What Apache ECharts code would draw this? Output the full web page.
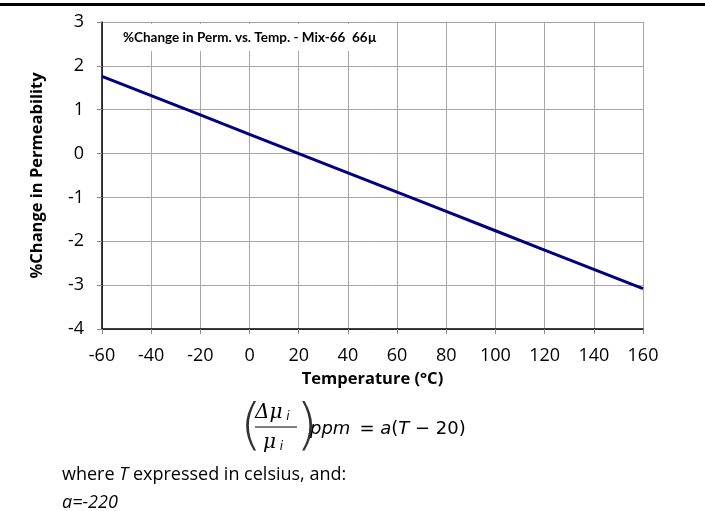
<!DOCTYPE html>
<html><head><meta charset="utf-8">
<style>html,body{margin:0;padding:0;background:#fff}#c{width:705px;height:511px}</style>
<script src="https://cdn.jsdelivr.net/npm/echarts@6/dist/echarts.min.js"></script>
</head><body><div id="c"></div>
<script>
// Data
const temps = [-60, -40, -20, 0, 20, 40, 60, 80, 100, 120, 140, 160];
const permChange = [1.76, 1.32, 0.88, 0.44, 0, -0.44, -0.88, -1.32, -1.76, -2.2, -2.64, -3.08];
const xTicks = {min: -60, max: 160, interval: 20};
const yTicks = {min: -4, max: 3, interval: 1};
const chartTitle = '%Change in Perm. vs. Temp. - Mix-66  66µ';
const xName = 'Temperature (°C)';
const yName = '%Change in Permeability';
const aValue = 'a=-220';

const font = '"Open Sans", sans-serif';
const chart = echarts.init(document.getElementById('c'), null, {renderer: 'canvas'});
chart.setOption({
  animation: false,
  backgroundColor: '#fff',
  grid: {left: 102, right: 62, top: 22, bottom: 182, containLabel: false},
  xAxis: {
    type: 'value', min: xTicks.min, max: xTicks.max, interval: xTicks.interval,
    name: xName, nameLocation: 'middle', nameGap: 42,
    nameTextStyle: {fontFamily: font, fontWeight: 'bold', fontSize: 16.5, color: '#000'},
    axisLine: {show: true, onZero: false, lineStyle: {color: '#000', width: 1.5}},
    axisTick: {show: true, length: 5, lineStyle: {color: '#888'}},
    axisLabel: {fontFamily: font, fontSize: 18, color: '#000', margin: 18},
    splitLine: {show: true, lineStyle: {color: '#a6a6a6', width: 1}}
  },
  yAxis: {
    type: 'value', min: yTicks.min, max: yTicks.max, interval: yTicks.interval,
    name: yName, nameLocation: 'middle', nameGap: 56, nameRotate: 90,
    nameTextStyle: {fontFamily: font, fontWeight: 'bold', fontSize: 16.5, color: '#000'},
    axisLine: {show: true, onZero: false, lineStyle: {color: '#000', width: 1.5}},
    axisTick: {show: true, length: 5, lineStyle: {color: '#888'}},
    axisLabel: {fontFamily: font, fontSize: 18, color: '#000', margin: 18},
    splitLine: {show: true, lineStyle: {color: '#a6a6a6', width: 1}}
  },
  series: [{
    type: 'line', data: temps.map((t, i) => [t, permChange[i]]),
    showSymbol: false, lineStyle: {color: '#000080', width: 3}
  }],
  graphic: [
    {type: 'rect', left: 0, top: 3, shape: {width: 705, height: 3}, style: {fill: '#000'}},
    {type: 'rect', shape: {x: 104, y: 24, width: 290, height: 27}, style: {fill: '#fff'}, z: 10},
    {type: 'text', x: 123, y: 38, z: 11, style: {text: chartTitle, font: 'bold 13.5px Lato', fill: '#000', verticalAlign: 'middle'}},
    // formula
    {type: 'text', x: 240, y: 428, z: 11, style: {text: '(', font: '300 56px DejaVu Sans', fill: '#333', verticalAlign: 'middle'}},
    {type: 'text', x: 296, y: 428, z: 11, style: {text: ')', font: '300 56px DejaVu Sans', fill: '#333', verticalAlign: 'middle'}},
    {type: 'text', x: 255, y: 413, z: 11, style: {text: '{n|Δμ}{s| i}', rich: {n: {font: 'italic 20px DejaVu Serif', fill: '#000'}, s: {font: 'italic 12px DejaVu Sans', fill: '#000', padding: [8, 0, 0, 0]}}, verticalAlign: 'middle'}},
    {type: 'line', z: 11, shape: {x1: 255, y1: 427, x2: 297, y2: 427}, style: {stroke: '#000', lineWidth: 1}},
    {type: 'text', x: 263, y: 443, z: 11, style: {text: '{n|μ}{s| i}', rich: {n: {font: 'italic 20px DejaVu Serif', fill: '#000'}, s: {font: 'italic 12px DejaVu Sans', fill: '#000', padding: [8, 0, 0, 0]}}, verticalAlign: 'middle'}},
    {type: 'text', x: 310, y: 429, z: 11, style: {text: '{i|ppm} {r| = }{i|a}{r|(}{i|T}{r| − 20)}', rich: {i: {font: 'italic 18px DejaVu Sans', fill: '#000'}, r: {font: '18px DejaVu Sans', fill: '#000'}}, verticalAlign: 'middle'}},
    {type: 'text', x: 62, y: 475, z: 11, style: {text: '{r|where }{i|T}{r| expressed in celsius, and:}', rich: {r: {font: '18px "Open Sans"', fill: '#000'}, i: {font: 'italic 18px "Open Sans"', fill: '#000'}}, verticalAlign: 'middle'}},
    {type: 'text', x: 62, y: 503, z: 11, style: {text: aValue, font: 'italic 18px "Open Sans"', fill: '#000', verticalAlign: 'middle'}}
  ]
});
</script></body></html>
